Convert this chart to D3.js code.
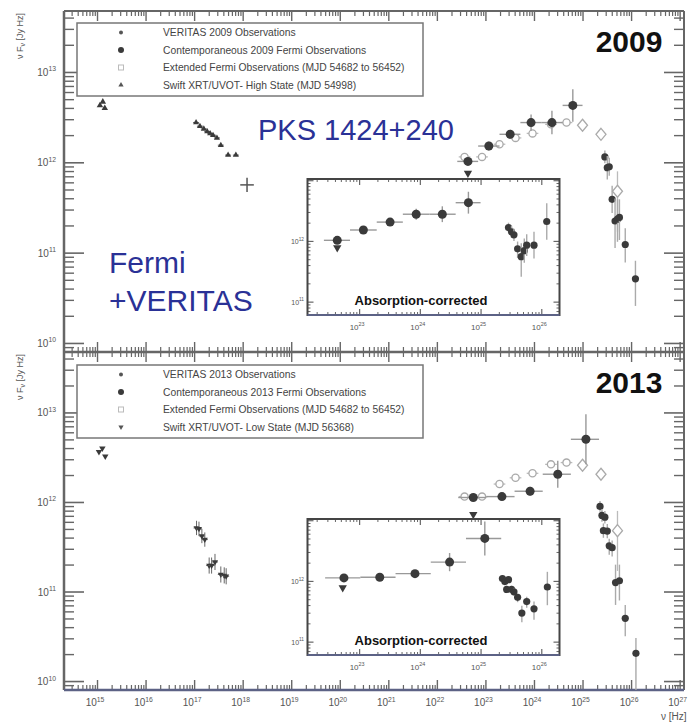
<!DOCTYPE html>
<html>
<head>
<meta charset="utf-8">
<script src="https://cdn.jsdelivr.net/npm/d3@7"></script>
<style>
  body { margin: 0; background: #fff; }
  svg { display: block; font-family: "Liberation Sans", Arial, Helvetica, sans-serif; }
</style>
</head>
<body>
<svg id="chart" width="688" height="724"></svg>
<script>

// all values are log10(nu / Hz) and log10(nu F_nu / Jy Hz)

// ---- 2009 ----
var uvot2009 = [[15.06, 12.63], [15.12, 12.67], [15.16, 12.60]];
var xrt2009 = [[17.04, 12.44], [17.12, 12.40], [17.20, 12.37], [17.27, 12.34], [17.33, 12.32],
               [17.39, 12.30], [17.47, 12.27], [17.55, 12.19], [17.70, 12.08], [17.86, 12.08]];
// [nu, flux, nuErr, fluxErr]
var bat2009 = [[18.09, 11.75, 0.14, 0.08]];
// [nu, flux, binLo, binHi, fluxErr]
var fermi2009 = [[22.64, 12.01, 22.42, 22.85, 0.03], [23.07, 12.18, 22.85, 23.29, 0.05],
                 [23.51, 12.31, 23.29, 23.72, 0.05], [23.94, 12.44, 23.72, 24.16, 0.09],
                 [24.37, 12.44, 24.16, 24.59, 0.13], [24.80, 12.63, 24.59, 25.00, 0.18]];
var fermiUL2009 = [[22.64, 11.88]];
// [nu, flux, errUp, errDown]
var veritas2009 = [[25.46, 12.06, 0.07, 0.07], [25.51, 11.94, 0.13, 0.13], [25.55, 11.95, 0.10, 0.10],
                   [25.61, 11.59, 0.15, 0.15], [25.67, 11.35, 0.25, 0.30], [25.72, 11.37, 0.22, 0.25],
                   [25.76, 11.39, 0.20, 0.25], [25.88, 11.09, 0.18, 0.20], [26.09, 10.71, 0.20, 0.30]];
var veritas2009Corr = [[25.46, 12.22, 0.08, 0.08], [25.51, 12.15, 0.10, 0.10], [25.55, 12.10, 0.10, 0.10],
                       [25.61, 11.87, 0.12, 0.15], [25.67, 11.74, 0.22, 0.33], [25.72, 11.84, 0.20, 0.20],
                       [25.76, 11.93, 0.18, 0.18], [25.88, 11.93, 0.22, 0.22], [26.09, 12.32, 0.30, 0.30]];
var fermiUL2009Corr = [[22.64, 11.89]];

// ---- 2013 ----
var uvot2013 = [[15.04, 12.56], [15.11, 12.60], [15.17, 12.51]];
// [nu, flux, fluxErr]
var xrt2013 = [[17.05, 11.71, 0.08], [17.10, 11.70, 0.08], [17.16, 11.62, 0.08], [17.22, 11.58, 0.08],
               [17.31, 11.29, 0.09], [17.36, 11.29, 0.09], [17.43, 11.33, 0.09], [17.55, 11.19, 0.09],
               [17.62, 11.18, 0.09], [17.66, 11.17, 0.09]];
var fermi2013 = [[22.75, 12.05, 22.44, 23.02, 0.03], [23.34, 12.06, 23.02, 23.60, 0.04],
                 [23.92, 12.12, 23.60, 24.18, 0.05], [24.49, 12.31, 24.18, 24.76, 0.15],
                 [25.07, 12.70, 24.76, 25.34, 0.28]];
var fermiUL2013 = [[22.75, 11.86]];
var veritas2013 = [[25.36, 11.95, 0.06, 0.06], [25.40, 11.85, 0.07, 0.07], [25.43, 11.68, 0.08, 0.08],
                   [25.46, 11.83, 0.07, 0.07], [25.51, 11.675, 0.08, 0.08], [25.55, 11.51, 0.08, 0.10],
                   [25.61, 11.49, 0.08, 0.10], [25.68, 11.10, 0.20, 0.25], [25.76, 11.12, 0.18, 0.22],
                   [25.88, 10.70, 0.15, 0.20], [26.10, 10.31, 0.17, 0.60]];
var veritas2013Corr = [[25.36, 12.04, 0.05, 0.05], [25.40, 11.99, 0.05, 0.05], [25.43, 11.86, 0.06, 0.06],
                       [25.46, 12.02, 0.05, 0.05], [25.51, 11.86, 0.06, 0.06], [25.55, 11.82, 0.06, 0.06],
                       [25.61, 11.73, 0.06, 0.08], [25.68, 11.47, 0.12, 0.15], [25.76, 11.66, 0.08, 0.10],
                       [25.88, 11.54, 0.12, 0.18], [26.10, 11.90, 0.25, 0.30]];
var fermiUL2013Corr = [[22.73, 11.89]];

// ---- extended Fermi (MJD 54682 to 56452), same in both panels ----
// [nu, flux, halfBin]
var fermiExt = [[22.57, 12.06, 0.12], [22.93, 12.06, 0.12], [23.29, 12.20, 0.12], [23.62, 12.27, 0.12],
                [23.97, 12.32, 0.12], [24.35, 12.42, 0.12], [24.67, 12.44, 0.12]];
// [nu, flux, errUp, errDown]
var fermiExtHE = [[25.00, 12.41, 0.04, 0.04], [25.38, 12.31, 0.05, 0.05], [25.72, 11.68, 0.22, 0.45]];

var legend2009 = ['VERITAS 2009 Observations', 'Contemporaneous 2009 Fermi Observations',
                  'Extended Fermi Observations (MJD 54682 to 56452)', 'Swift XRT/UVOT- High State (MJD 54998)'];
var legend2013 = ['VERITAS 2013 Observations', 'Contemporaneous 2013 Fermi Observations',
                  'Extended Fermi Observations (MJD 54682 to 56452)', 'Swift XRT/UVOT- Low State (MJD 56368)'];

var P = function (v) { return Math.pow(10, v); };

var svg = d3.select('#chart');
var frameCol = '#666';
var markCol = '#3a3a3a';
var barCol = '#999';

var x = d3.scaleLog().domain([P(14.32), P(27.09)]).range([64, 684]);

var panels = [
  { year: '2009', top: 11, bottom: 352, legendTop: 23, legend: legend2009, swiftDown: false,
    uvot: uvot2009, xrt: xrt2009, bat: bat2009, fermi: fermi2009, ul: fermiUL2009,
    veritas: veritas2009, corr: veritas2009Corr, ulCorr: fermiUL2009Corr, inset: 179 },
  { year: '2013', top: 352, bottom: 690, legendTop: 365, legend: legend2013, swiftDown: true,
    uvot: uvot2013, xrt: xrt2013, bat: [], fermi: fermi2013, ul: fermiUL2013,
    veritas: veritas2013, corr: veritas2013Corr, ulCorr: fermiUL2013Corr, inset: 519 }
];

// log-axis tick values: powers of ten and the 2..9 minors in between
function logTicks(scale, lo, hi) {
  var major = [], minor = [];
  var dom = scale.domain();
  for (var n = lo; n <= hi; n++) {
    if (P(n) >= dom[0] && P(n) <= dom[1]) major.push(P(n));
    for (var k = 2; k <= 9; k++) {
      var v = k * P(n);
      if (v >= dom[0] && v <= dom[1]) minor.push(v);
    }
  }
  return { major: major, minor: minor };
}

function tickAxis(parent, gen, scale, vals, size, tx, ty, width) {
  var g = parent.append('g')
    .attr('transform', 'translate(' + tx + ',' + ty + ')')
    .call(gen(scale).tickValues(vals).tickSize(size).tickFormat(''));
  g.select('.domain').remove();
  g.selectAll('line').attr('stroke', frameCol).attr('stroke-width', width || 1.2);
  return g;
}

function powLabel(parent, px, py, exp, anchor, size) {
  var t = parent.append('text')
    .attr('x', px).attr('y', py)
    .attr('text-anchor', anchor)
    .attr('font-size', size)
    .attr('fill', '#555');
  t.append('tspan').text('10');
  t.append('tspan').attr('dy', -size * 0.45).attr('font-size', size * 0.68).text(exp);
}

function triangle(down, area) {
  return function (sel) {
    sel.attr('d', d3.symbol().type(d3.symbolTriangle).size(area))
      .attr('transform', function () {
        return d3.select(this).attr('transform') + (down ? ' rotate(180)' : '');
      });
  };
}

function drawFermi(g, data, xs, ys, r) {
  var s = g.selectAll(null).data(data).enter().append('g');
  s.append('line')
    .attr('x1', function (d) { return xs(P(d[2])); })
    .attr('x2', function (d) { return xs(P(d[3])); })
    .attr('y1', function (d) { return ys(P(d[1])); })
    .attr('y2', function (d) { return ys(P(d[1])); })
    .attr('stroke', barCol).attr('stroke-width', 1.4);
  s.append('line')
    .attr('x1', function (d) { return xs(P(d[0])); })
    .attr('x2', function (d) { return xs(P(d[0])); })
    .attr('y1', function (d) { return ys(P(d[1] + d[4])); })
    .attr('y2', function (d) { return ys(P(d[1] - d[4])); })
    .attr('stroke', barCol).attr('stroke-width', 1.4);
  s.append('circle')
    .attr('cx', function (d) { return xs(P(d[0])); })
    .attr('cy', function (d) { return ys(P(d[1])); })
    .attr('r', r).attr('fill', markCol);
}

function drawVeritas(g, data, xs, ys, r) {
  var s = g.selectAll(null).data(data).enter().append('g');
  s.append('line')
    .attr('x1', function (d) { return xs(P(d[0])); })
    .attr('x2', function (d) { return xs(P(d[0])); })
    .attr('y1', function (d) { return ys(P(d[1] + d[2])); })
    .attr('y2', function (d) { return ys(P(d[1] - d[3])); })
    .attr('stroke', '#aaa').attr('stroke-width', 1.4);
  s.append('circle')
    .attr('cx', function (d) { return xs(P(d[0])); })
    .attr('cy', function (d) { return ys(P(d[1])); })
    .attr('r', r).attr('fill', markCol);
}

function drawUL(g, data, xs, ys) {
  g.selectAll(null).data(data).enter().append('path')
    .attr('transform', function (d) { return 'translate(' + xs(P(d[0])) + ',' + ys(P(d[1])) + ') rotate(180)'; })
    .attr('d', d3.symbol().type(d3.symbolTriangle).size(30))
    .attr('fill', markCol);
}

panels.forEach(function (p, pi) {
  var y = d3.scaleLog().domain([P(9.9), P(13.675)]).range([p.bottom, p.top]);

  var clipId = 'clip' + pi;
  svg.append('clipPath').attr('id', clipId).append('rect')
    .attr('x', 64).attr('y', p.top).attr('width', 620).attr('height', p.bottom - p.top);

  // ticks
  var tx = logTicks(x, 14, 27);
  var ty = logTicks(y, 9, 13);
  var axes = svg.append('g');
  tickAxis(axes, d3.axisTop, x, tx.major, -10, 0, p.top, 1.4);
  tickAxis(axes, d3.axisTop, x, tx.minor, -5, 0, p.top);
  tickAxis(axes, d3.axisBottom, x, tx.major, -10, 0, p.bottom, 1.4);
  tickAxis(axes, d3.axisBottom, x, tx.minor, -5, 0, p.bottom);
  tickAxis(axes, d3.axisLeft, y, ty.major, -20, 64, 0, 1.6);
  tickAxis(axes, d3.axisLeft, y, ty.minor, -10, 64, 0, 1.4);
  tickAxis(axes, d3.axisRight, y, ty.major, -20, 684, 0, 1.6);
  tickAxis(axes, d3.axisRight, y, ty.minor, -10, 684, 0, 1.4);

  // frame
  axes.append('line').attr('x1', 64).attr('x2', 64).attr('y1', p.top).attr('y2', p.bottom)
    .attr('stroke', frameCol).attr('stroke-width', 2.5);
  axes.append('line').attr('x1', 684).attr('x2', 684).attr('y1', p.top).attr('y2', p.bottom)
    .attr('stroke', frameCol).attr('stroke-width', 2);
  axes.append('line').attr('x1', 64).attr('x2', 684).attr('y1', p.top).attr('y2', p.top)
    .attr('stroke', frameCol).attr('stroke-width', 2);
  axes.append('line').attr('x1', 64).attr('x2', 684).attr('y1', p.bottom).attr('y2', p.bottom)
    .attr('stroke', pi === 1 ? '#5c6285' : frameCol).attr('stroke-width', 2.5);

  // y labels
  [10, 11, 12, 13].forEach(function (n) {
    powLabel(axes, 56, y(P(n)) + 4, n, 'end', 10);
  });
  svg.append('text')
    .attr('transform', 'translate(23,' + (p.top + 2) + ') rotate(-90)')
    .attr('text-anchor', 'end')
    .attr('font-size', 9).attr('fill', '#555')
    .call(function (t) {
      t.append('tspan').text('\u03bd F');
      t.append('tspan').attr('dy', 2).attr('font-size', 7).text('\u03bd');
      t.append('tspan').attr('dy', -2).text(' [Jy Hz]');
    });

  // data
  var dg = svg.append('g').attr('clip-path', 'url(#' + clipId + ')');

  // extended Fermi
  var ext = dg.selectAll(null).data(fermiExt).enter().append('g');
  ext.append('line')
    .attr('x1', function (d) { return x(P(d[0] - d[2])); })
    .attr('x2', function (d) { return x(P(d[0] + d[2])); })
    .attr('y1', function (d) { return y(P(d[1])); })
    .attr('y2', function (d) { return y(P(d[1])); })
    .attr('stroke', '#bbb').attr('stroke-width', 1.3);
  ext.append('circle')
    .attr('cx', function (d) { return x(P(d[0])); })
    .attr('cy', function (d) { return y(P(d[1])); })
    .attr('r', 3.6).attr('fill', '#fff').attr('stroke', '#aaa').attr('stroke-width', 1.3);
  var extHE = dg.selectAll(null).data(fermiExtHE).enter().append('g');
  extHE.append('line')
    .attr('x1', function (d) { return x(P(d[0])); })
    .attr('x2', function (d) { return x(P(d[0])); })
    .attr('y1', function (d) { return y(P(d[1] + d[2])); })
    .attr('y2', function (d) { return y(P(d[1] - d[3])); })
    .attr('stroke', '#bbb').attr('stroke-width', 1.3);
  extHE.append('path')
    .attr('transform', function (d) { return 'translate(' + x(P(d[0])) + ',' + y(P(d[1])) + ')'; })
    .attr('d', 'M0,-6L5,0L0,6L-5,0Z')
    .attr('fill', '#fff').attr('stroke', '#aaa').attr('stroke-width', 1.3);

  // Swift UVOT
  dg.selectAll(null).data(p.uvot).enter().append('path')
    .attr('transform', function (d) {
      return 'translate(' + x(P(d[0])) + ',' + y(P(d[1])) + ')' + (p.swiftDown ? ' rotate(180)' : '');
    })
    .attr('d', d3.symbol().type(d3.symbolTriangle).size(18))
    .attr('fill', markCol);

  // Swift XRT
  var xr = dg.selectAll(null).data(p.xrt).enter().append('g');
  xr.append('line')
    .attr('x1', function (d) { return x(P(d[0])) - 3; })
    .attr('x2', function (d) { return x(P(d[0])) + 3; })
    .attr('y1', function (d) { return y(P(d[1])); })
    .attr('y2', function (d) { return y(P(d[1])); })
    .attr('stroke', '#666').attr('stroke-width', 1);
  xr.filter(function (d) { return d.length > 2; }).append('line')
    .attr('x1', function (d) { return x(P(d[0])); })
    .attr('x2', function (d) { return x(P(d[0])); })
    .attr('y1', function (d) { return y(P(d[1] + d[2])); })
    .attr('y2', function (d) { return y(P(d[1] - d[2])); })
    .attr('stroke', '#666').attr('stroke-width', 1);
  xr.append('path')
    .attr('transform', function (d) {
      return 'translate(' + x(P(d[0])) + ',' + y(P(d[1])) + ')' + (p.swiftDown ? ' rotate(180)' : '');
    })
    .attr('d', d3.symbol().type(d3.symbolTriangle).size(16))
    .attr('fill', markCol);

  // hard X-ray point
  var bt = dg.selectAll(null).data(p.bat).enter().append('g');
  bt.append('line')
    .attr('x1', function (d) { return x(P(d[0] - d[2])); })
    .attr('x2', function (d) { return x(P(d[0] + d[2])); })
    .attr('y1', function (d) { return y(P(d[1])); })
    .attr('y2', function (d) { return y(P(d[1])); })
    .attr('stroke', '#555').attr('stroke-width', 1.5);
  bt.append('line')
    .attr('x1', function (d) { return x(P(d[0])); })
    .attr('x2', function (d) { return x(P(d[0])); })
    .attr('y1', function (d) { return y(P(d[1] + d[3])); })
    .attr('y2', function (d) { return y(P(d[1] - d[3])); })
    .attr('stroke', '#555').attr('stroke-width', 1.5);

  drawFermi(dg, p.fermi, x, y, 4.5);
  drawUL(dg, p.ul, x, y);
  drawVeritas(dg, p.veritas, x, y, 3.6);

  // legend
  var lg = svg.append('g');
  lg.append('rect')
    .attr('x', 77).attr('y', p.legendTop).attr('width', 346).attr('height', 73)
    .attr('fill', '#fff').attr('stroke', '#777').attr('stroke-width', 1.5);
  p.legend.forEach(function (label, i) {
    var ry = p.legendTop + 9.5 + i * 17.5;
    if (i === 0) lg.append('circle').attr('cx', 121).attr('cy', ry).attr('r', 2).attr('fill', '#555');
    if (i === 1) lg.append('circle').attr('cx', 121).attr('cy', ry).attr('r', 3).attr('fill', markCol);
    if (i === 2) lg.append('rect').attr('x', 118.5).attr('y', ry - 2.5).attr('width', 5).attr('height', 5)
      .attr('fill', '#fff').attr('stroke', '#bbb').attr('stroke-width', 1);
    if (i === 3) lg.append('path')
      .attr('transform', 'translate(121,' + ry + ')' + (p.swiftDown ? ' rotate(180)' : ''))
      .attr('d', d3.symbol().type(d3.symbolTriangle).size(12)).attr('fill', '#555');
    lg.append('text')
      .attr('x', 163).attr('y', ry + 3.5)
      .attr('font-size', 10.3).attr('fill', '#444')
      .text(label);
  });

  // year
  svg.append('text')
    .attr('x', 629).attr('y', p.top + 41)
    .attr('text-anchor', 'middle')
    .attr('font-size', 30).attr('font-weight', 'bold').attr('fill', '#111')
    .text(p.year);

  // inset
  var iTop = p.inset, iBot = p.inset + 136;
  var ix = d3.scaleLog().domain([P(22.15), P(26.30)]).range([307.5, 559.5]);
  var iy = d3.scaleLog().domain([P(10.78), P(13.02)]).range([iBot, iTop]);
  var ig = svg.append('g');
  ig.append('rect')
    .attr('x', 307.5).attr('y', iTop).attr('width', 252).attr('height', 136)
    .attr('fill', '#fff');
  var itx = logTicks(ix, 22, 26);
  var ity = logTicks(iy, 10, 13);
  tickAxis(ig, d3.axisTop, ix, itx.major, -6, 0, iTop, 1.2);
  tickAxis(ig, d3.axisTop, ix, itx.minor, -3, 0, iTop, 1);
  tickAxis(ig, d3.axisBottom, ix, itx.major, -6, 0, iBot, 1.2);
  tickAxis(ig, d3.axisBottom, ix, itx.minor, -3, 0, iBot, 1);
  tickAxis(ig, d3.axisLeft, iy, ity.major, -6, 307.5, 0, 1.2);
  tickAxis(ig, d3.axisLeft, iy, ity.minor, -3, 307.5, 0, 1);
  tickAxis(ig, d3.axisRight, iy, ity.major, -6, 559.5, 0, 1.2);
  tickAxis(ig, d3.axisRight, iy, ity.minor, -3, 559.5, 0, 1);
  ig.append('rect')
    .attr('x', 307.5).attr('y', iTop).attr('width', 252).attr('height', 136)
    .attr('fill', 'none').attr('stroke', '#444').attr('stroke-width', 2);
  ig.append('line').attr('x1', 307.5).attr('x2', 559.5).attr('y1', iBot).attr('y2', iBot)
    .attr('stroke', '#5c6285').attr('stroke-width', 2);

  [23, 24, 25, 26].forEach(function (n) {
    powLabel(ig, ix(P(n)) - 2, iBot + 15, n, 'middle', 8);
  });
  [11, 12].forEach(function (n) {
    powLabel(ig, 304, iy(P(n)) + 3, n, 'end', 7);
  });

  drawFermi(ig, p.fermi, ix, iy, 4.5);
  drawUL(ig, p.ulCorr, ix, iy);
  drawVeritas(ig, p.corr, ix, iy, 3.6);

  ig.append('text')
    .attr('x', 421).attr('y', iBot - 10.5)
    .attr('text-anchor', 'middle')
    .attr('font-size', 13).attr('font-weight', 'bold').attr('fill', '#111')
    .text('Absorption-corrected');
});

// x labels on the shared bottom axis
var xb = svg.append('g');
d3.range(15, 28).forEach(function (n) {
  powLabel(xb, x(P(n)) - 2, 706, n, 'middle', 10);
});
xb.append('text')
  .attr('x', 661).attr('y', 720)
  .attr('font-size', 10).attr('fill', '#555')
  .text('\u03bd [Hz]');

// source label
var blue = '#2a3196';
svg.append('text').attr('x', 258).attr('y', 140)
  .attr('font-size', 29).attr('fill', blue).text('PKS 1424+240');
svg.append('text').attr('x', 109).attr('y', 273)
  .attr('font-size', 30).attr('fill', blue).text('Fermi');
svg.append('text').attr('x', 109).attr('y', 311)
  .attr('font-size', 30).attr('fill', blue).text('+VERITAS');

</script>
</body>
</html>
